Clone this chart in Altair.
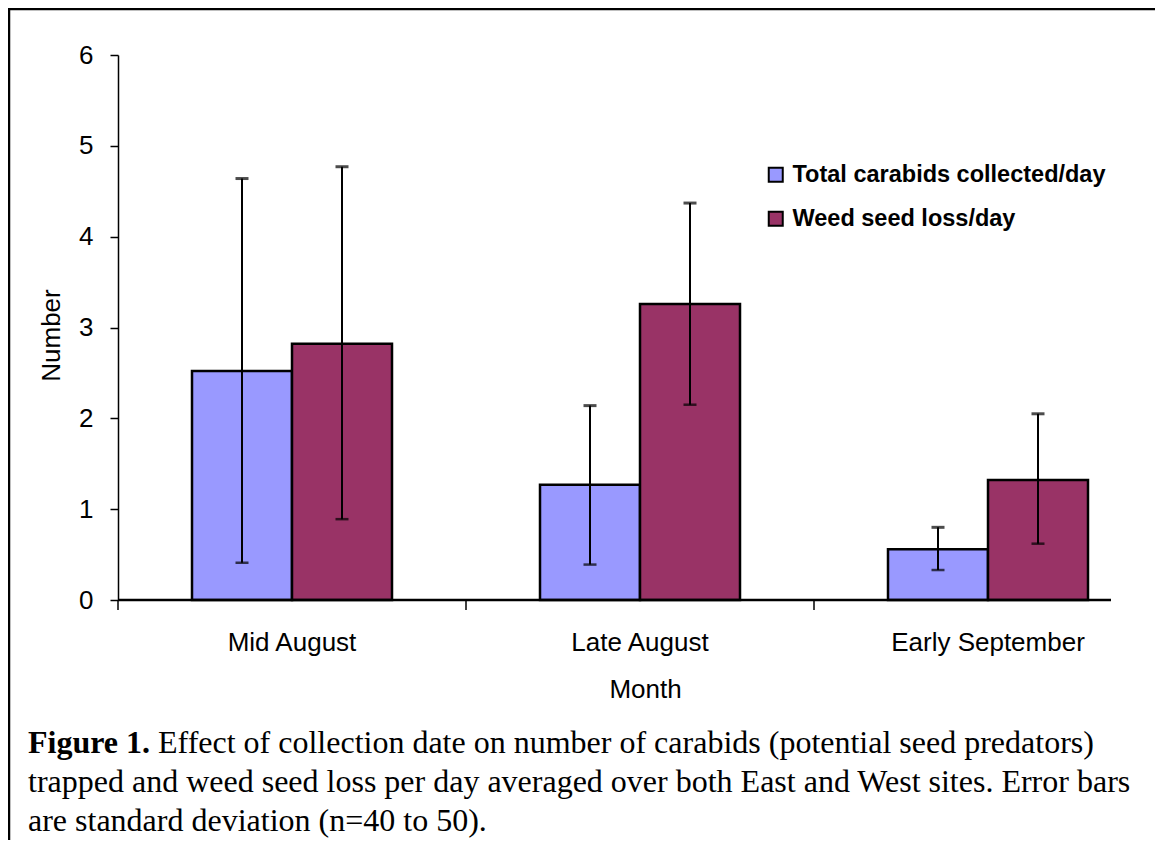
import altair as alt
import pandas as pd

months = ["Mid August", "Late August", "Early September"]
series = ["Total carabids collected/day", "Weed seed loss/day"]
carabids_mean = [2.52, 1.27, 0.56]
carabids_lo = [0.41, 0.39, 0.33]
carabids_hi = [4.64, 2.14, 0.80]
weed_mean = [2.82, 3.26, 1.32]
weed_lo = [0.89, 2.15, 0.62]
weed_hi = [4.77, 4.37, 2.05]
colors = ["#9999FF", "#993366"]
y_ticks = [0, 1, 2, 3, 4, 5, 6]
caption_bold = "Figure 1."
caption_first = "Effect of collection date on number of carabids (potential seed predators)"
caption_rest = [
    "trapped and weed seed loss per day averaged over both East and West sites. Error bars",
    "are standard deviation (n=40 to 50).",
]

rows = []
for i, m in enumerate(months):
    rows.append({"month": m, "series": series[0], "mean": carabids_mean[i], "lo": carabids_lo[i], "hi": carabids_hi[i]})
    rows.append({"month": m, "series": series[1], "mean": weed_mean[i], "lo": weed_lo[i], "hi": weed_hi[i]})
df = pd.DataFrame(rows)

FONT = "Liberation Sans"
SERIF = "Liberation Serif"
W, H = 993, 545
CAP = 32

x_scale = alt.Scale(domain=months, range=[0, 1044], paddingInner=0, paddingOuter=0)
x_axis = alt.Axis(title="Month", labelAngle=0, domain=False, ticks=False, tickSize=0,
                  labelPadding=29, labelFontSize=26, labelFont=FONT, labelColor="black",
                  labelLimit=500,
                  titleFontSize=26, titleFont=FONT, titleFontWeight="normal", titleColor="black",
                  titleX=527, titleY=97, titleBaseline="alphabetic")
y_scale = alt.Scale(domain=[0, 6], nice=False, zero=True)
y_axis = alt.Axis(title="Number", values=y_ticks, grid=False, domainColor="black", domainWidth=1.5,
                  tickColor="black", tickWidth=1.5, tickSize=8, labelPadding=17,
                  labelFontSize=26, labelFont=FONT, labelColor="black",
                  titleFontSize=26, titleFont=FONT, titleFontWeight="normal", titleColor="black",
                  titleX=-59, titleY=280, titleBaseline="alphabetic")

def xenc(**kw):
    return alt.X("month:N", scale=x_scale, axis=x_axis, sort=months, **kw)

xoff = alt.XOffset("series:N", scale=alt.Scale(domain=series, paddingInner=0, paddingOuter=0.74))

base = alt.Chart(df)

bars = base.mark_bar(stroke="black", strokeWidth=2.5).encode(
    x=xenc(),
    xOffset=xoff,
    y=alt.Y("mean:Q", scale=y_scale, axis=y_axis),
    color=alt.Color("series:N", scale=alt.Scale(domain=series, range=colors),
                    legend=alt.Legend(orient="none", legendX=646, legendY=108, title=None,
                                      symbolType="square", symbolSize=196,
                                      symbolStrokeColor="black", symbolStrokeWidth=2,
                                      symbolOpacity=1,
                                      labelFont=FONT, labelFontSize=23.5, labelFontWeight="bold",
                                      labelColor="black", labelOffset=5, labelLimit=600,
                                      rowPadding=19, padding=0)),
)

err = base.mark_rule(color="black", strokeWidth=2).encode(
    x=xenc(), xOffset=xoff,
    y=alt.Y("lo:Q", scale=y_scale, axis=y_axis), y2="hi:Q",
)
cap_lo = base.mark_tick(color="black", thickness=2.5, size=13).encode(
    x=xenc(), xOffset=xoff, y=alt.Y("lo:Q", scale=y_scale, axis=y_axis))
cap_hi = base.mark_tick(color="black", thickness=3, size=13).encode(
    x=xenc(), xOffset=xoff, y=alt.Y("hi:Q", scale=y_scale, axis=y_axis))

xline = alt.Chart(pd.DataFrame({"v": [0]})).mark_rule(color="black", strokeWidth=2.5).encode(
    y=alt.Y("v:Q", scale=y_scale, axis=y_axis), x=alt.value(0), x2=alt.value(W))

band_ticks = alt.Chart(pd.DataFrame({"month": months})).mark_rule(color="black", strokeWidth=1.5).encode(
    x=xenc(bandPosition=0), y=alt.value(H), y2=alt.value(H + 10))

frame_df = pd.DataFrame({"k": [0]})
frame_top = alt.Chart(frame_df).mark_rule(color="black", strokeWidth=2.5).encode(
    x=alt.value(-110), x2=alt.value(W + 44), y=alt.value(-46))
frame_left = alt.Chart(frame_df).mark_rule(color="black", strokeWidth=2.5).encode(
    x=alt.value(-109), y=alt.value(-47), y2=alt.value(H + 240))

cap_b = alt.Chart(pd.DataFrame({"t": [caption_bold]})).mark_text(
    font=SERIF, fontSize=CAP, fontWeight="bold", align="left", baseline="alphabetic", color="black"
).encode(text="t:N", x=alt.value(-90), y=alt.value(698))
cap_1 = alt.Chart(pd.DataFrame({"t": [caption_first]})).mark_text(
    font=SERIF, fontSize=CAP, align="left", baseline="alphabetic", color="black"
).encode(text="t:N", x=alt.value(40), y=alt.value(698))
cap_2 = alt.Chart(pd.DataFrame({"t": [caption_rest[0]]})).mark_text(
    font=SERIF, fontSize=CAP, align="left", baseline="alphabetic", color="black"
).encode(text="t:N", x=alt.value(-90), y=alt.value(737))
cap_3 = alt.Chart(pd.DataFrame({"t": [caption_rest[1]]})).mark_text(
    font=SERIF, fontSize=CAP, align="left", baseline="alphabetic", color="black"
).encode(text="t:N", x=alt.value(-90), y=alt.value(776))

chart = alt.layer(
    bars, err, cap_lo, cap_hi, xline, band_ticks, frame_top, frame_left, cap_b, cap_1, cap_2, cap_3
).properties(
    width=W, height=H,
    padding={"left": 110, "top": 47, "right": 44, "bottom": 240},
    autosize=alt.AutoSizeParams(type="none"),
).configure(background="white").configure_view(strokeWidth=0, stroke=None)

chart.save("out.html", embed_options={"renderer": "svg", "actions": False})
